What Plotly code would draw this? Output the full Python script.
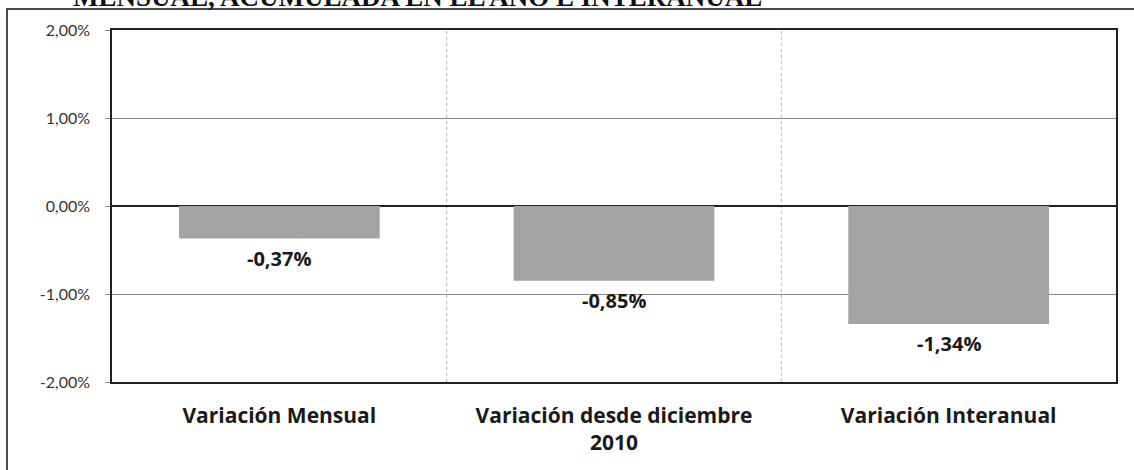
import plotly.graph_objects as go

categories = ["Variación Mensual", "Variación desde diciembre<br>2010", "Variación Interanual"]
values = [-0.37, -0.85, -1.34]
labels = ["-0,37%", "-0,85%", "-1,34%"]
tick_vals = [2, 1, 0, -1, -2]
tick_text = ["2,00%", "1,00%", "0,00%", "-1,00%", "-2,00%"]
title_text = "MENSUAL, ACUMULADA EN EL AÑO E INTERANUAL"

W, H = 1134, 470
L, R, T, B = 112, 18, 30, 88
pw, ph = W - L - R, H - T - B

def px_x(p):
    return (p - L) / pw

def px_y(p):
    return (H - B - p) / ph

fig = go.Figure()
fig.add_trace(go.Bar(
    x=categories, y=values,
    marker=dict(color="#a3a3a3", line=dict(width=0)),
    width=0.6,
    hoverinfo="skip",
))

annotations = []
for c, v, t in zip(categories, values, labels):
    annotations.append(dict(
        x=c, y=v, xref="x", yref="y", text=t, showarrow=False,
        yanchor="top", yshift=-4,
        font=dict(family="Open Sans", size=20, color="#1a1a1a", weight="bold"),
    ))

shapes = []
for xb in [0.5, 1.5]:
    shapes.append(dict(type="line", xref="x", yref="paper", x0=xb, x1=xb, y0=0, y1=1,
                       line=dict(color="#b5b5b5", width=1, dash="dot"), layer="below"))
shapes.append(dict(type="rect", xref="paper", yref="paper",
                   x0=px_x(7), x1=px_x(W + 20), y0=px_y(H + 20), y1=px_y(9),
                   line=dict(color="#111111", width=1.5), fillcolor="rgba(0,0,0,0)"))

fig.update_layout(
    width=W, height=H,
    margin=dict(l=L, r=R, t=T, b=B, autoexpand=False),
    paper_bgcolor="white", plot_bgcolor="white",
    showlegend=False,
    bargap=0.4,
    title=dict(
        text=title_text, x=73 / W, xanchor="left", xref="container",
        y=(H - 6) / H, yanchor="bottom", yref="container",
        font=dict(family="Liberation Serif", size=27, color="#111111", weight="bold"),
    ),
    annotations=annotations,
    shapes=shapes,
    xaxis=dict(
        type="category", showgrid=False, zeroline=False,
        showline=True, linecolor="#222222", linewidth=1.5, mirror=True,
        ticks="", tickfont=dict(family="Open Sans", size=21, color="#1a1a1a", weight="bold"),
        ticklabelstandoff=14, automargin=False,
    ),
    yaxis=dict(
        range=[-2, 2], tickvals=tick_vals, ticktext=tick_text,
        showgrid=True, gridcolor="#8a8a8a", gridwidth=1,
        zeroline=True, zerolinecolor="#222222", zerolinewidth=1.5,
        showline=True, linecolor="#222222", linewidth=1.5, mirror=True,
        ticks="outside", ticklen=5, tickcolor="#888888",
        tickfont=dict(family="Lato", size=16, color="#333333"),
        ticklabelstandoff=12, automargin=False,
    ),
)

fig.write_html("out.html", config={"displayModeBar": False},
               post_script="document.body.style.margin='0px';")
